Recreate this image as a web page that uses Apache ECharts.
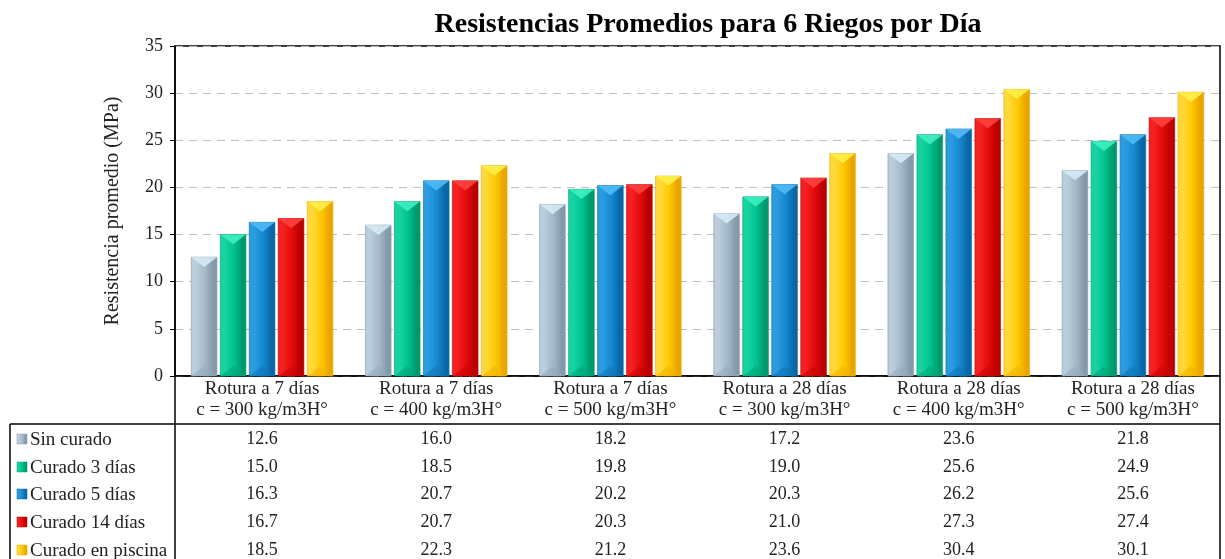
<!DOCTYPE html>
<html>
<head>
<meta charset="utf-8">
<script src="https://cdn.jsdelivr.net/npm/echarts@6/dist/echarts.min.js"></script>
<style>
html,body{margin:0;padding:0;background:#fff;}
#chart{width:1225px;height:559px;}
</style>
</head>
<body>
<div id="chart"></div>
<script>
const categories = [
  "Rotura a 7 días\nc = 300 kg/m3H°",
  "Rotura a 7 días\nc = 400 kg/m3H°",
  "Rotura a 7 días\nc = 500 kg/m3H°",
  "Rotura a 28 días\nc = 300 kg/m3H°",
  "Rotura a 28 días\nc = 400 kg/m3H°",
  "Rotura a 28 días\nc = 500 kg/m3H°"
];
const seriesNames = ["Sin curado", "Curado 3 días", "Curado 5 días", "Curado 14 días", "Curado en piscina"];
const sinCurado = [12.6, 16.0, 18.2, 17.2, 23.6, 21.8];
const curado3 = [15.0, 18.5, 19.8, 19.0, 25.6, 24.9];
const curado5 = [16.3, 20.7, 20.2, 20.3, 26.2, 25.6];
const curado14 = [16.7, 20.7, 20.3, 21.0, 27.3, 27.4];
const curadoPiscina = [18.5, 22.3, 21.2, 23.6, 30.4, 30.1];
const yTicks = [0, 5, 10, 15, 20, 25, 30, 35];

const seriesValues = [sinCurado, curado3, curado5, curado14, curadoPiscina];
// [light, base, dark, top-bevel, bottom-bevel]
const palette = [
  ["#b9cddb", "#a2b8c8", "#8499a9", "#d6eaf5", "#93aabb"],
  ["#16d4a2", "#00c08c", "#00986c", "#3ff0c0", "#00a477"],
  ["#2a9ce2", "#1488d0", "#0a66a4", "#4fbaf5", "#0e74b6"],
  ["#f52020", "#e20a0a", "#b80000", "#ff4040", "#c40404"],
  ["#ffd83a", "#ffc800", "#eaa600", "#fff04a", "#f0b000"]
];
const FONT = "'Liberation Serif', 'Times New Roman', serif";
const CAT_GAP = 0.187;
const BAR_GAP = 0.13;
const NS = seriesNames.length;

function grad(c) {
  return new echarts.graphic.LinearGradient(0, 0, 1, 0, [
    {offset: 0, color: c[0]},
    {offset: 0.2, color: c[0]},
    {offset: 0.55, color: c[1]},
    {offset: 0.85, color: c[2]},
    {offset: 1, color: c[2]}
  ]);
}

function renderBar(params, api) {
  const s = params.seriesIndex;
  const c = palette[s];
  const ci = api.value(0);
  const v = api.value(1);
  const top = api.coord([ci, v]);
  const base = api.coord([ci, 0]);
  const band = api.size([1, 0])[0];
  const groupW = band * (1 - CAT_GAP);
  const w = groupW / (NS + (NS - 1) * BAR_GAP);
  const x = top[0] - groupW / 2 + s * w * (1 + BAR_GAP);
  const y0 = top[1], y1 = base[1];
  const h = y1 - y0;
  const bev = Math.min(w * 0.38, h / 2);
  const cx = x + w / 2;
  return {
    type: 'group',
    children: [
      {type: 'rect', shape: {x: x, y: y0, width: w, height: h},
       style: {fill: grad(c), stroke: c[2], lineWidth: 0.6}},
      {type: 'polygon', shape: {points: [[x, y0], [x + w, y0], [cx, y0 + bev]]},
       style: {fill: c[3], opacity: 0.9}},
      {type: 'polygon', shape: {points: [[x, y1], [x + w, y1], [cx, y1 - bev]]},
       style: {fill: c[4], opacity: 0.55}}
    ]
  };
}

const chart = echarts.init(document.getElementById('chart'));
const axisY = 376;
const rowCenters = [439, 467, 494, 522, 550];

const xAxes = [{
  type: 'category',
  data: categories,
  gridIndex: 0,
  position: 'bottom',
  axisLine: {show: true, lineStyle: {color: '#000', width: 1.5}},
  axisTick: {show: false},
  axisLabel: {
    color: '#222', fontFamily: FONT, fontSize: 19, lineHeight: 21,
    margin: 24, verticalAlign: 'middle', interval: 0
  }
}];
seriesValues.forEach((vals, s) => {
  xAxes.push({
    type: 'category',
    data: categories,
    gridIndex: 0,
    position: 'bottom',
    offset: rowCenters[s] - axisY,
    axisLine: {show: false},
    axisTick: {show: false},
    splitLine: {show: false},
    axisLabel: {
      color: '#222', fontFamily: FONT, fontSize: 18, margin: 0,
      verticalAlign: 'middle', interval: 0,
      formatter: (v, idx) => vals[idx].toFixed(1)
    }
  });
});

const series = seriesNames.map((name, s) => ({
  name: name,
  type: 'custom',
  xAxisIndex: 0,
  renderItem: renderBar,
  encode: {x: 0, y: 1},
  data: seriesValues[s].map((v, i) => [i, v]),
  itemStyle: {color: palette[s][1]}
}));

// Legend column of the data table (keys + series names)
const legendGraphics = [];
seriesNames.forEach((name, s) => {
  const c = palette[s];
  legendGraphics.push({
    type: 'rect',
    shape: {x: 17, y: rowCenters[s] - 5, width: 10, height: 10},
    style: {fill: grad(c), stroke: c[2], lineWidth: 0.5}
  });
  legendGraphics.push({
    type: 'text',
    style: {x: 30, y: rowCenters[s] + 1, text: name, verticalAlign: 'middle', align: 'left',
      fontFamily: FONT, fontSize: 19, fill: '#222'}
  });
});

chart.setOption({
  animation: false,
  backgroundColor: '#fff',
  title: {
    text: 'Resistencias Promedios para 6 Riegos por Día',
    left: 703, top: 6, textAlign: 'center',
    textStyle: {fontFamily: FONT, fontSize: 28, fontWeight: 'bold', color: '#000'}
  },
  grid: {left: 175, right: 5, top: 46, bottom: 559 - axisY, show: true, borderColor: '#000', borderWidth: 1.5, containLabel: false},
  xAxis: xAxes,
  yAxis: {
    type: 'value', min: 0, max: 35, interval: 5,
    name: 'Resistencia promedio (MPa)', nameLocation: 'middle', nameGap: 52,
    nameTextStyle: {fontFamily: FONT, fontSize: 20, color: '#222'},
    axisLine: {show: true, lineStyle: {color: '#000', width: 1.5}},
    axisTick: {show: true, length: 5, lineStyle: {color: '#000'}},
    axisLabel: {fontFamily: FONT, fontSize: 18, color: '#222', margin: 12,
      formatter: v => yTicks.includes(v) ? String(v) : ''},
    splitLine: {show: true, lineStyle: {color: '#bdbdbd', type: [8, 6], width: 1.2}}
  },
  series: series,
  graphic: legendGraphics.concat([
    {type: 'line', shape: {x1: 10, y1: 424, x2: 1220, y2: 424}, style: {stroke: '#000', lineWidth: 1.5}},
    {type: 'line', shape: {x1: 10, y1: 424, x2: 10, y2: 559}, style: {stroke: '#000', lineWidth: 1.5}},
    {type: 'line', shape: {x1: 175, y1: 376, x2: 175, y2: 559}, style: {stroke: '#000', lineWidth: 1.5}},
    {type: 'line', shape: {x1: 1220, y1: 376, x2: 1220, y2: 559}, style: {stroke: '#000', lineWidth: 1.5}}
  ])
});
</script>
</body>
</html>
